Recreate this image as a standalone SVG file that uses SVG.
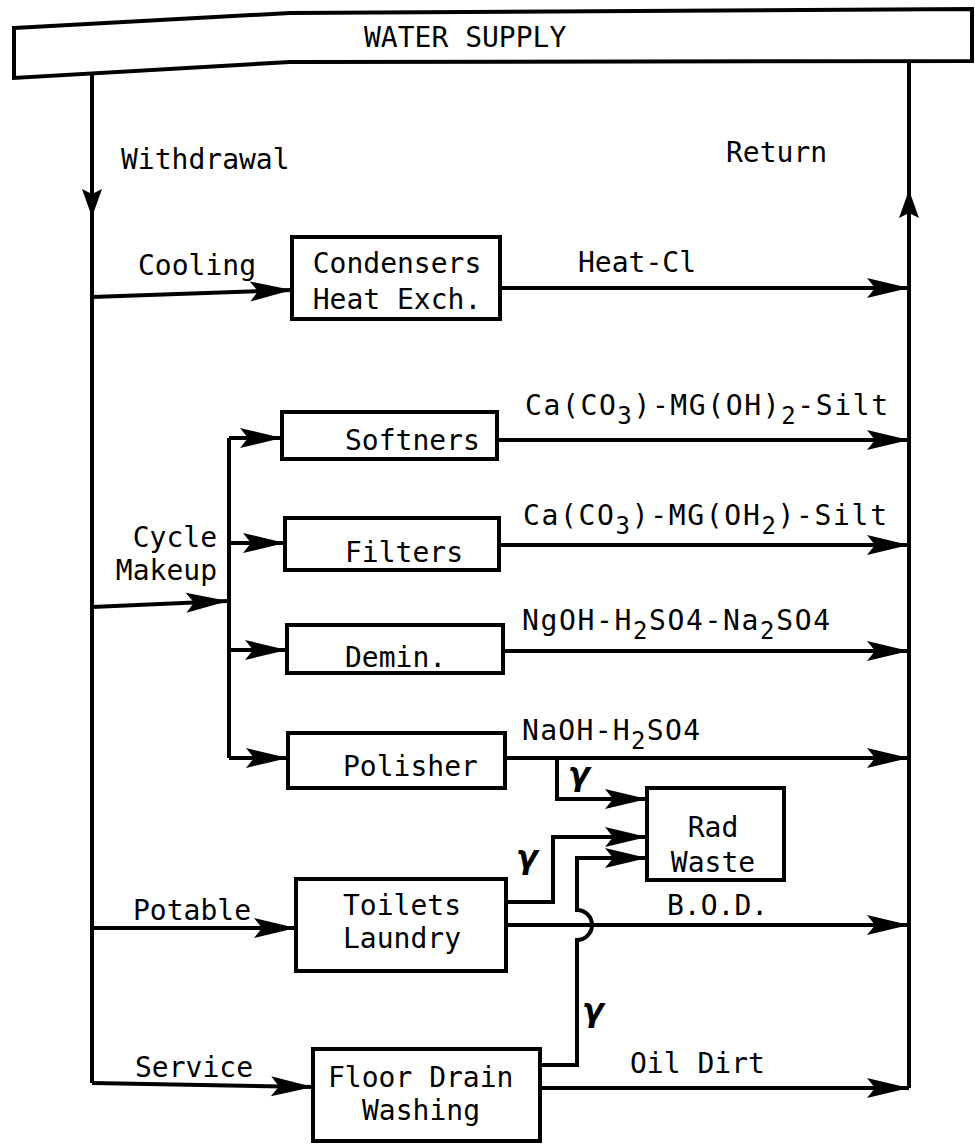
<svg xmlns="http://www.w3.org/2000/svg" width="975" height="1145" viewBox="0 0 975 1145">
<style>
.t{font-family:"DejaVu Sans Mono","Liberation Mono",monospace;font-size:28px;fill:#000}
.g{font-family:"DejaVu Sans",sans-serif;font-size:32px;font-style:italic;font-weight:bold;fill:#000}
.box{fill:#fff;stroke:#000;stroke-width:4}
.ln{fill:none;stroke:#000;stroke-width:4}
.sub{font-size:24px}
</style>
<defs>
<marker id="ah" markerUnits="userSpaceOnUse" markerWidth="46" markerHeight="24" viewBox="-44 -12 46 24" refX="0" refY="0" orient="auto" overflow="visible"><path d="M0,0 L-42,-10 L-34,0 L-42,10 Z" fill="#000"/></marker>
<marker id="av" markerUnits="userSpaceOnUse" markerWidth="32" markerHeight="24" viewBox="-30 -12 32 24" refX="0" refY="0" orient="auto" overflow="visible"><path d="M0,0 L-28,-10 L-23,0 L-28,10 Z" fill="#000"/></marker>
</defs>
<rect width="975" height="1145" fill="#fff"/>

<g id="water-supply">
<path class="box" d="M14,28 L290,13 L972,9 L972,61 L290,62 L14,78 Z"/>
<text class="t" x="364" y="47">WATER SUPPLY</text>
</g>

<g id="connectors">
<path class="ln" d="M92,75 V1083"/>
<path class="ln" d="M909,61 V1088"/>
<path class="ln" d="M92,150 V217" marker-end="url(#av)"/>
<path class="ln" d="M909,260 V190" marker-end="url(#av)"/>
<path class="ln" d="M92,297 L292,290" marker-end="url(#ah)"/>
<path class="ln" d="M500,288 H909" marker-end="url(#ah)"/>
<path class="ln" d="M92,607 L228,601" marker-end="url(#ah)"/>
<path class="ln" d="M229,438 V758"/>
<path class="ln" d="M229,438 H282" marker-end="url(#ah)"/>
<path class="ln" d="M229,543 H285" marker-end="url(#ah)"/>
<path class="ln" d="M229,650 H287" marker-end="url(#ah)"/>
<path class="ln" d="M229,758 H288" marker-end="url(#ah)"/>
<path class="ln" d="M497,440 H909" marker-end="url(#ah)"/>
<path class="ln" d="M499,545 H909" marker-end="url(#ah)"/>
<path class="ln" d="M503,651 H909" marker-end="url(#ah)"/>
<path class="ln" d="M505,758 H909" marker-end="url(#ah)"/>
<path class="ln" d="M557,758 V799 H647" marker-end="url(#ah)"/>
<path class="ln" d="M506,902 H553 V837 H647" marker-end="url(#ah)"/>
<path class="ln" d="M540,1065 H577 V940 A15,15 0 0 0 577,910 V858 H647" marker-end="url(#ah)"/>
<path class="ln" d="M92,928 H296" marker-end="url(#ah)"/>
<path class="ln" d="M506,925 H909" marker-end="url(#ah)"/>
<path class="ln" d="M92,1083 L313,1087" marker-end="url(#ah)"/>
<path class="ln" d="M540,1088 H909" marker-end="url(#ah)"/>
</g>

<g id="labels">
<text class="t" x="121" y="169">Withdrawal</text>
<text class="t" x="726" y="162">Return</text>
<text class="t" x="138" y="275">Cooling</text>
<text class="t" x="578" y="272">Heat-Cl</text>
<text class="t" x="525" y="415" textLength="363" lengthAdjust="spacing">Ca(CO<tspan class="sub" dy="9">3</tspan><tspan dy="-9">)-MG(OH)</tspan><tspan class="sub" dy="9">2</tspan><tspan dy="-9">-Silt</tspan></text>
<text class="t" x="523" y="525" textLength="364" lengthAdjust="spacing">Ca(CO<tspan class="sub" dy="9">3</tspan><tspan dy="-9">)-MG(OH</tspan><tspan class="sub" dy="9">2</tspan><tspan dy="-9">)-Silt</tspan></text>
<text class="t" x="522" y="630" textLength="308" lengthAdjust="spacing">NgOH-H<tspan class="sub" dy="9">2</tspan><tspan dy="-9">SO4-Na</tspan><tspan class="sub" dy="9">2</tspan><tspan dy="-9">SO4</tspan></text>
<text class="t" x="522" y="740" textLength="178" lengthAdjust="spacing">NaOH-H<tspan class="sub" dy="9">2</tspan><tspan dy="-9">SO4</tspan></text>
<text class="t" x="217" y="547" text-anchor="end">Cycle</text>
<text class="t" x="217" y="580" text-anchor="end">Makeup</text>
<text class="t" x="133" y="920">Potable</text>
<text class="t" x="667" y="915">B.O.D.</text>
<text class="t" x="135" y="1077">Service</text>
<text class="t" x="630" y="1073">Oil Dirt</text>
<text class="g" x="568" y="785">γ</text>
<text class="g" x="516" y="868">γ</text>
<text class="g" x="582" y="1021">γ</text>
</g>

<g id="condensers">
<rect class="box" x="292" y="237" width="208" height="82"/>
<text class="t" x="397" y="273" text-anchor="middle">Condensers</text>
<text class="t" x="397" y="309" text-anchor="middle">Heat Exch.</text>
</g>
<g id="softners">
<rect class="box" x="282" y="412" width="215" height="47"/>
<text class="t" x="345" y="450">Softners</text>
</g>
<g id="filters">
<rect class="box" x="285" y="518" width="214" height="52"/>
<text class="t" x="345" y="562">Filters</text>
</g>
<g id="demin">
<rect class="box" x="287" y="625" width="216" height="48"/>
<text class="t" x="345" y="667">Demin.</text>
</g>
<g id="polisher">
<rect class="box" x="288" y="733" width="217" height="55"/>
<text class="t" x="343" y="776">Polisher</text>
</g>
<g id="rad-waste">
<rect class="box" x="647" y="788" width="137" height="92"/>
<text class="t" x="713" y="837" text-anchor="middle">Rad</text>
<text class="t" x="713" y="872" text-anchor="middle">Waste</text>
</g>
<g id="toilets">
<rect class="box" x="296" y="879" width="210" height="92"/>
<text class="t" x="343" y="915">Toilets</text>
<text class="t" x="343" y="948">Laundry</text>
</g>
<g id="floor-drain">
<rect class="box" x="313" y="1049" width="227" height="92"/>
<text class="t" x="328" y="1087">Floor Drain</text>
<text class="t" x="362" y="1120">Washing</text>
</g>
</svg>
